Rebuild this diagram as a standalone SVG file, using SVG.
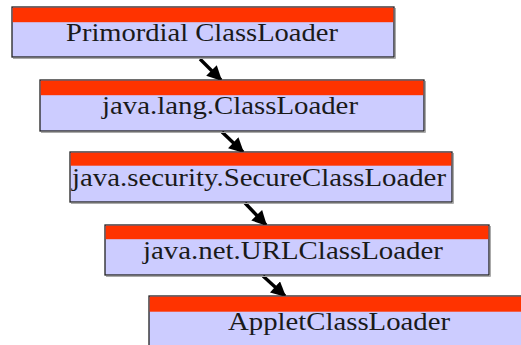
<svg xmlns="http://www.w3.org/2000/svg" width="521" height="345" viewBox="0 0 521 345">
  <defs>
    <style>
      .body { fill: #ccccff; stroke: #222; stroke-width: 1.3; }
      .band { fill: #ff3300; }
      .shadow { fill: none; stroke: #aaa; stroke-width: 1; }
      .label { font-family: "Liberation Serif", "Times New Roman", serif; font-size: 25px; fill: #1a1a1a; }
      .edge { stroke: #000; stroke-width: 3.4; fill: none; marker-end: url(#head); }
    </style>
    <marker id="head" viewBox="0 0 10 10" refX="9" refY="5" markerWidth="4.6" markerHeight="4.4" orient="auto" markerUnits="strokeWidth">
      <path d="M0,0 L10,5 L0,10 z" fill="#000"/>
    </marker>
  </defs>
  <rect width="521" height="345" fill="#fff"/>

  <g id="connectors">
    <line class="edge" x1="200" y1="59" x2="221" y2="80"/>
    <line class="edge" x1="222" y1="132" x2="243" y2="152"/>
    <line class="edge" x1="245" y1="203" x2="266" y2="225"/>
    <line class="edge" x1="263" y1="276" x2="285" y2="296"/>
  </g>

  <g id="primordial">
    <polyline class="shadow" points="395.5,8 395.5,58.5 13,58.5"/>
    <rect class="body" x="12" y="7" width="382" height="50"/>
    <rect class="band" x="12.7" y="7.7" width="380.6" height="14.5"/>
    <text class="label" x="66" y="41" textLength="272" lengthAdjust="spacingAndGlyphs">Primordial ClassLoader</text>
  </g>

  <g id="lang-classloader">
    <polyline class="shadow" points="425.5,81 425.5,132.5 41,132.5"/>
    <rect class="body" x="40" y="80" width="384" height="51"/>
    <rect class="band" x="40.7" y="80.7" width="382.6" height="14.5"/>
    <text class="label" x="102" y="114" textLength="256" lengthAdjust="spacingAndGlyphs">java.lang.ClassLoader</text>
  </g>

  <g id="secure-classloader">
    <polyline class="shadow" points="453.5,153 453.5,203.5 71,203.5"/>
    <rect class="body" x="70" y="152" width="382" height="50"/>
    <rect class="band" x="70.7" y="152.7" width="380.6" height="13"/>
    <text class="label" x="72" y="186" textLength="374" lengthAdjust="spacingAndGlyphs">java.security.SecureClassLoader</text>
  </g>

  <g id="url-classloader">
    <polyline class="shadow" points="490.5,226 490.5,276.5 106,276.5"/>
    <rect class="body" x="105" y="225" width="384" height="50"/>
    <rect class="band" x="105.7" y="225.7" width="382.6" height="13.5"/>
    <text class="label" x="143" y="259" textLength="300" lengthAdjust="spacingAndGlyphs">java.net.URLClassLoader</text>
  </g>

  <g id="applet-classloader">
    <rect class="body" x="149" y="296" width="384" height="50"/>
    <rect class="band" x="149.7" y="296.7" width="382.6" height="15"/>
    <text class="label" x="228" y="330" textLength="222" lengthAdjust="spacingAndGlyphs">AppletClassLoader</text>
  </g>
</svg>
